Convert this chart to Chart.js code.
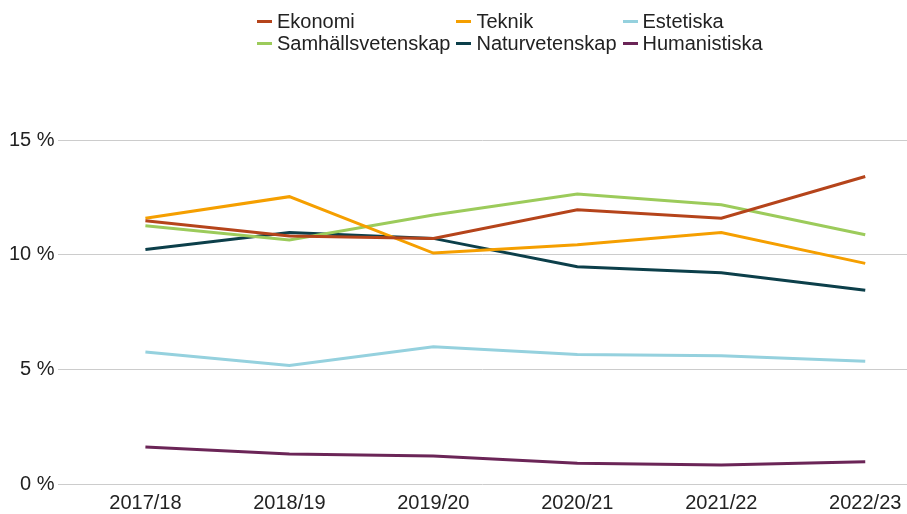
<!DOCTYPE html>
<html>
<head>
<meta charset="utf-8">
<script src="https://cdn.jsdelivr.net/npm/chart.js@4/dist/chart.umd.min.js"></script>
<style>
  html, body { margin: 0; padding: 0; background: #fff; }
  #wrap { position: relative; width: 907px; height: 514px; }
  #legend {
    position: absolute; left: 257px; top: 10px;
    display: grid; grid-template-columns: auto auto auto; column-gap: 6px;
    font-family: "Liberation Sans", Arial, sans-serif; font-size: 20px; color: #222;
    line-height: 22px;
  }
  .item { display: flex; align-items: center; white-space: nowrap; }
  .mark { width: 15px; height: 3px; margin-right: 5px; }
</style>
</head>
<body>
<div id="wrap">
  <canvas id="myChart" width="907" height="514"></canvas>
  <div id="legend"></div>
</div>
<script>
const years = ['2017/18', '2018/19', '2019/20', '2020/21', '2021/22', '2022/23'];
const yTicks = [0, 5, 10, 15];

const ekonomi = [11.48, 10.81, 10.71, 11.96, 11.59, 13.41];
const teknik = [11.59, 12.53, 10.07, 10.43, 10.97, 9.62];
const estetiska = [5.76, 5.17, 5.98, 5.65, 5.59, 5.35];
const samhall = [11.26, 10.64, 11.73, 12.64, 12.18, 10.87];
const natur = [10.23, 10.97, 10.71, 9.47, 9.21, 8.45];
const humanistiska = [1.61, 1.31, 1.22, 0.91, 0.83, 0.97];

const series = [
  { label: 'Ekonomi', data: ekonomi, color: '#b5441b' },
  { label: 'Teknik', data: teknik, color: '#f59f00' },
  { label: 'Estetiska', data: estetiska, color: '#95d1de' },
  { label: 'Samhällsvetenskap', data: samhall, color: '#9ccb5b' },
  { label: 'Naturvetenskap', data: natur, color: '#0c3f4a' },
  { label: 'Humanistiska', data: humanistiska, color: '#6b2557' }
];

// legende en trois colonnes
const legend = document.getElementById('legend');
series.forEach(s => {
  const item = document.createElement('div');
  item.className = 'item';
  item.innerHTML = '<span class="mark" style="background:' + s.color + '"></span>' + s.label;
  legend.appendChild(item);
});

const font = { family: '"Liberation Sans", Arial, sans-serif', size: 20, lineHeight: 1 };

const ctx = document.getElementById('myChart');

new Chart(ctx, {
  type: 'line',
  data: {
    datasets: series.map(s => ({
      label: s.label,
      data: s.data.map((v, i) => ({ x: i, y: v })),
      borderColor: s.color,
      backgroundColor: s.color,
      borderWidth: 3,
      pointRadius: 0,
      tension: 0
    }))
  },
  options: {
    responsive: false,
    animation: false,
    layout: { padding: { top: 140, left: 6, right: 0, bottom: 0 } },
    plugins: { legend: { display: false }, tooltip: { enabled: false } },
    scales: {
      x: {
        type: 'linear',
        min: -0.61,
        max: 5.29,
        afterBuildTicks: axis => { axis.ticks = years.map((_, i) => ({ value: i })); },
        ticks: {
          callback: v => years[v],
          color: '#222',
          font: font,
          padding: 1,
          maxRotation: 0
        },
        grid: { display: false },
        border: { display: false }
      },
      y: {
        min: 0,
        max: 15,
        afterBuildTicks: axis => { axis.ticks = yTicks.map(v => ({ value: v })); },
        ticks: {
          callback: v => v + ' %',
          color: '#222',
          font: font,
          padding: 3
        },
        grid: { color: '#cccccc', lineWidth: 1, drawTicks: false },
        border: { display: false }
      }
    }
  }
});
</script>
</body>
</html>
